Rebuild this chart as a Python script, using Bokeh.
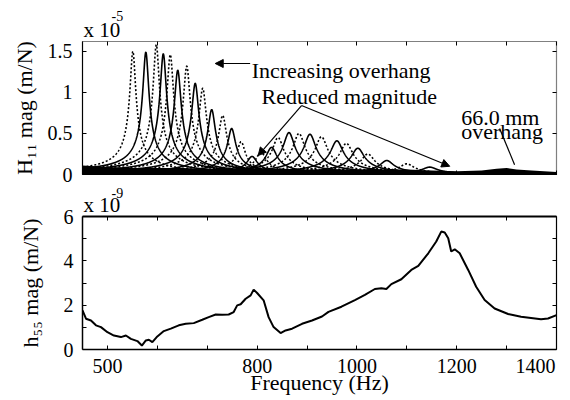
import numpy as np
from bokeh.plotting import figure
from bokeh.models import Range1d, LinearAxis, FixedTicker, Label, Arrow, NormalHead, Title
from bokeh.layouts import column
from bokeh.embed import file_html
from bokeh.resources import INLINE

FONT = "Liberation Serif"

# ---------------- top panel: H11 FRFs (peak freq [Hz], peak magnitude [x1e-5], line style)
low_peak_hz = [551, 577, 598, 612, 626, 641, 659, 676, 691, 709, 731, 749, 768]
low_peak_mag = [1.50, 1.49, 1.58, 1.47, 1.46, 1.27, 1.32, 1.11, 1.05, 0.79, 0.72, 0.56, 0.40]
low_peak_style = ["dotted", "solid", "dotted", "solid", "dotted", "solid", "dotted",
                  "solid", "dotted", "solid", "dotted", "solid", "dotted"]
low_damping = 0.0100
high_peak_hz = [790, 808, 829, 842, 864, 884, 906, 929, 960, 979, 1002, 1022, 1060, 1100, 1146]
high_peak_mag = [0.22, 0.27, 0.33, 0.45, 0.51, 0.50, 0.49, 0.46, 0.41, 0.38, 0.32, 0.25, 0.17, 0.13, 0.09]
high_peak_style = ["solid", "dotted", "solid", "dotted", "solid", "dotted", "solid", "dotted",
                   "solid", "dotted", "solid", "dotted", "solid", "dotted", "solid"]
high_damping = 0.0125

# dense low-level measurement band at the bottom of the top panel
band_hz = [450, 500, 550, 600, 650, 700, 750, 800, 850, 900, 950, 1000, 1050, 1100,
           1150, 1200, 1250, 1280, 1300, 1320, 1350, 1400]
band_top = [0.11, 0.09, 0.08, 0.08, 0.08, 0.07, 0.07, 0.07, 0.07, 0.06, 0.06, 0.06, 0.06,
            0.06, 0.05, 0.04, 0.05, 0.07, 0.08, 0.06, 0.05, 0.03]

# ---------------- bottom panel: h55 (x1e-9 m/N)
h55_hz = [450, 457, 467, 477, 487, 500, 513, 527, 537, 547, 560, 569, 577, 583, 590, 600,
          613, 627, 643, 657, 673, 690, 703, 717, 730, 743, 753, 760, 767, 777, 787, 793,
          800, 813, 823, 833, 847, 857, 870, 890, 910, 930, 943, 969, 996, 1016, 1036,
          1049, 1059, 1069, 1089, 1109, 1123, 1143, 1159, 1169, 1176, 1183, 1189, 1196,
          1206, 1223, 1239, 1256, 1276, 1303, 1329, 1369, 1383, 1400]
h55_mag = [1.76, 1.39, 1.31, 1.09, 1.01, 0.78, 0.63, 0.56, 0.63, 0.48, 0.38, 0.18, 0.41,
           0.44, 0.33, 0.59, 0.83, 0.94, 1.09, 1.16, 1.19, 1.34, 1.46, 1.58, 1.57, 1.58,
           1.69, 1.99, 2.04, 2.29, 2.44, 2.70, 2.55, 2.22, 1.46, 1.01, 0.74, 0.86, 0.94,
           1.16, 1.31, 1.49, 1.70, 1.93, 2.23, 2.46, 2.73, 2.76, 2.73, 2.95, 3.17, 3.59,
           3.77, 4.34, 4.87, 5.32, 5.28, 5.02, 4.42, 4.52, 4.34, 3.59, 2.83, 2.23, 1.85,
           1.60, 1.48, 1.36, 1.40, 1.55]

NBSP = "\u00a0"
x_ticks = [500, 600, 700, 800, 900, 1000, 1100, 1200, 1300, 1400]
x_tick_labels = {500: "500", 600: "", 700: "", 800: "800", 900: "", 1000: "1000",
                 1100: "", 1200: "1200", 1300: "", 1400: "1400" + NBSP * 3}
top_y_ticks = [0, 0.5, 1, 1.5]
top_y_labels = {0: "0", 0.5: "0.5", 1: "1", 1.5: "1.5"}
bot_y_ticks = [0, 1, 2, 3, 4, 5, 6]
bot_y_labels = {0: "0", 1: "", 2: "2", 3: "", 4: "4", 5: "", 6: "6"}

X0, X1 = 450, 1400


def style_axis(ax, ticks, labels=None, show_labels=True, dash="solid", lw=1.2):
    ax.ticker = FixedTicker(ticks=ticks)
    ax.minor_tick_line_color = None
    ax.major_tick_in = 4
    ax.major_tick_out = 0
    ax.major_tick_line_color = "black"
    ax.axis_line_color = "black"
    ax.axis_line_width = lw
    ax.axis_line_dash = dash
    ax.axis_label_text_font = FONT
    ax.axis_label_text_font_size = "22px"
    ax.axis_label_text_font_style = "normal"
    ax.axis_label_text_color = "black"
    if show_labels:
        ax.major_label_text_font = FONT
        ax.major_label_text_font_size = "20px"
        ax.major_label_text_color = "black"
        if labels is not None:
            ax.major_label_overrides = labels
    else:
        ax.major_label_text_font_size = "1px"
        ax.major_label_text_alpha = 0
        ax.major_label_standoff = 0


def frf(f, fn, amp, zeta):
    r = f / fn
    return amp * 2 * zeta / np.sqrt((1 - r ** 2) ** 2 + (2 * zeta * r) ** 2)


def exp_titles(p, s1, s2, exp_text):
    p.add_layout(Title(text="x 10", align="left", offset=1, standoff=s1, vertical_align="bottom",
                       text_font=FONT, text_font_size="21px", text_font_style="normal",
                       text_color="black"), "above")
    p.add_layout(Title(text=exp_text, align="left", offset=29, standoff=s2,
                       vertical_align="bottom", text_font=FONT, text_font_size="14px",
                       text_font_style="normal", text_color="black"), "above")


# ================= top figure =================
p1 = figure(width=570, height=187, x_range=Range1d(X0, X1), y_range=Range1d(0, 1.62),
            output_backend="svg", toolbar_location=None,
            min_border_left=82, min_border_right=14, min_border_top=41, min_border_bottom=13)
p1.grid.visible = False
p1.outline_line_color = None
p1.background_fill_color = "white"

style_axis(p1.xaxis[0], x_ticks, show_labels=False)
style_axis(p1.yaxis[0], top_y_ticks, top_y_labels)
p1.yaxis[0].major_label_standoff = 10
p1.yaxis[0].axis_label = "H₁₁ mag (m/N)"
p1.yaxis[0].axis_label_standoff = 8
ax_top = LinearAxis()
style_axis(ax_top, x_ticks, show_labels=False, dash="1 1")
p1.add_layout(ax_top, "above")
ax_right = LinearAxis()
style_axis(ax_right, top_y_ticks, show_labels=False, dash="1 1")
p1.add_layout(ax_right, "right")
exp_titles(p1, 0, -11, "-5")

f = np.linspace(X0, X1, 2400)
p1.varea(x=band_hz, y1=[0] * len(band_hz), y2=band_top, fill_color="black")
peaks = ([(fn, a, s, low_damping) for fn, a, s in zip(low_peak_hz, low_peak_mag, low_peak_style)]
         + [(fn, a, s, high_damping) for fn, a, s in zip(high_peak_hz, high_peak_mag, high_peak_style)])
for fn, a, s, z in peaks:
    y = frf(f, fn, a, z)
    if s == "solid":
        p1.line(f, y, line_color="black", line_width=1.6)
    else:
        p1.line(f, y, line_color="black", line_width=1.6, line_dash="2 2")

txt = dict(text_font=FONT, text_color="black")
p1.add_layout(Label(x=789, y=1.267, text="Increasing overhang", text_font_size="22px",
                    text_baseline="alphabetic", **txt))
p1.add_layout(Label(x=809, y=0.95, text="Reduced magnitude", text_font_size="22px",
                    text_baseline="alphabetic", **txt))
p1.add_layout(Label(x=1209, y=0.69, text="66.0 mm", text_font_size="22px",
                    text_baseline="alphabetic", **txt))
p1.add_layout(Label(x=1209, y=0.527, text="overhang", text_font_size="22px",
                    text_baseline="alphabetic", **txt))


def head():
    return NormalHead(size=8, fill_color="black", line_color="black", line_width=1)


p1.add_layout(Arrow(end=head(), x_start=786, y_start=1.352, x_end=716, y_end=1.352,
                    line_width=1.2))
p1.add_layout(Arrow(end=head(), x_start=889, y_start=0.84, x_end=802, y_end=0.23,
                    line_width=1.2))
p1.add_layout(Arrow(end=head(), x_start=889, y_start=0.84, x_end=1186, y_end=0.10,
                    line_width=1.2))
p1.add_layout(Arrow(end=None, x_start=1286, y_start=0.56, x_end=1316, y_end=0.12,
                    line_width=1.2))

# ================= bottom figure =================
p2 = figure(width=570, height=213, x_range=Range1d(X0, X1), y_range=Range1d(0, 6),
            output_backend="svg", toolbar_location=None,
            min_border_left=82, min_border_right=14, min_border_top=29, min_border_bottom=51)
p2.grid.visible = False
p2.outline_line_color = None
p2.background_fill_color = "white"

style_axis(p2.xaxis[0], x_ticks, x_tick_labels, lw=1.5)
p2.xaxis[0].major_label_standoff = 5
p2.xaxis[0].axis_label = "Frequency (Hz)"
p2.xaxis[0].axis_label_standoff = -10
style_axis(p2.yaxis[0], bot_y_ticks, bot_y_labels, lw=1.5)
p2.yaxis[0].major_label_standoff = 9
p2.yaxis[0].axis_label = "h₅₅ mag (m/N)"
p2.yaxis[0].axis_label_standoff = 18
ax_top2 = LinearAxis()
style_axis(ax_top2, x_ticks, show_labels=False, lw=1.8)
p2.add_layout(ax_top2, "above")
ax_right2 = LinearAxis()
style_axis(ax_right2, bot_y_ticks, show_labels=False, lw=1.2)
p2.add_layout(ax_right2, "right")
exp_titles(p2, -1, -12, "-9")

p2.line(h55_hz, h55_mag, line_color="black", line_width=2)

layout = column(p1, p2, spacing=0)
open("out.html", "w").write(file_html(layout, INLINE))
